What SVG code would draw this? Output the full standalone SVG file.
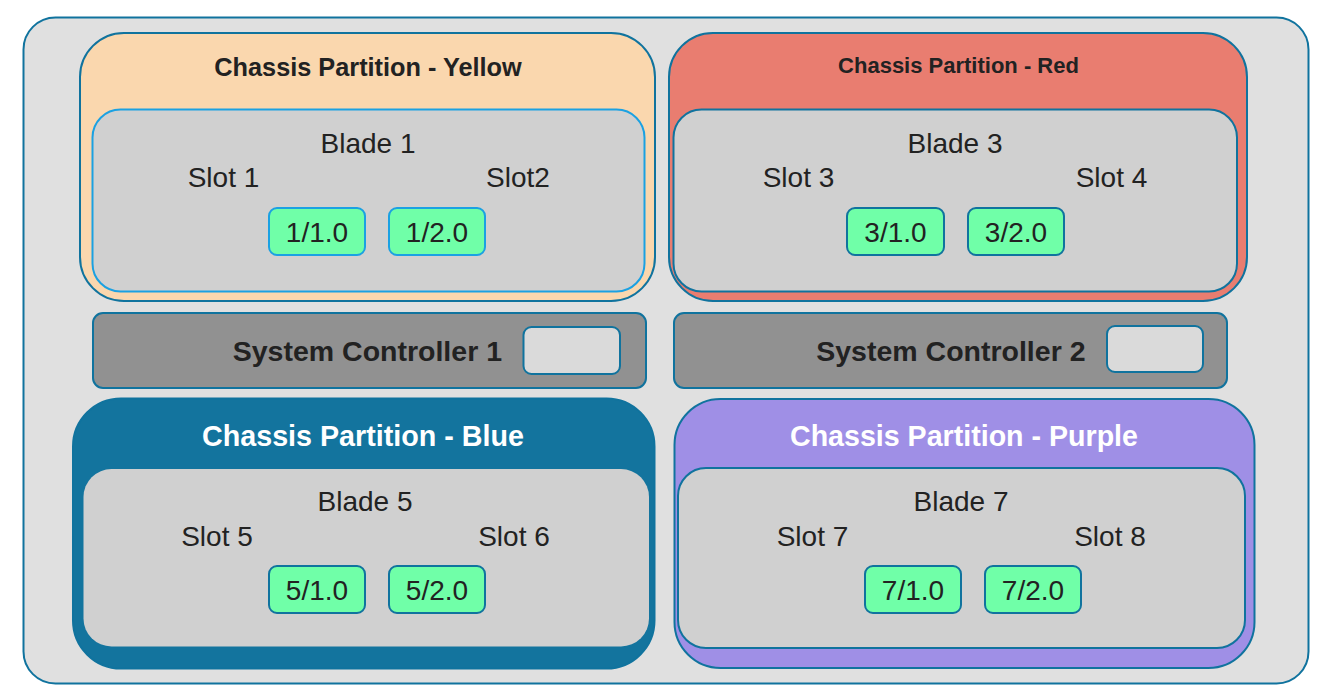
<svg xmlns="http://www.w3.org/2000/svg" width="1322" height="690" viewBox="0 0 1322 690">
  <style>
    .outline { stroke: #10739e; stroke-width: 2; }
    .blade { fill: #d0d0d0; }
    .port { fill: #70ffa8; stroke-width: 2; }
    .t { font-family: "Liberation Sans", Arial, Helvetica, sans-serif; fill: #222222; text-anchor: middle; }
    .title { font-weight: bold; }
    .white { fill: #ffffff; }
    .lbl { font-size: 28px; }
    .sc { font-size: 28.5px; font-weight: bold; text-anchor: end; }
  </style>
  <rect width="1322" height="690" fill="#ffffff"/>
  <g id="chassis">
    <rect x="23.5" y="17.5" width="1285" height="666" rx="32" ry="32" fill="#e0e0e0" class="outline"/>
  </g>

  <g id="partition-yellow">
    <rect x="80" y="33" width="575" height="268" rx="44" ry="44" fill="#fad7ae" class="outline"/>
    <text class="t title" x="368" y="76" font-size="25.3">Chassis Partition - Yellow</text>
    <g id="blade-1">
      <rect x="92.5" y="109.5" width="552" height="182" rx="28" ry="28" class="blade" stroke="#1ba1e2" stroke-width="2"/>
      <text class="t lbl" x="368" y="152.5">Blade 1</text>
      <text class="t lbl" x="223.5" y="187">Slot 1</text>
      <text class="t lbl" x="518" y="187">Slot2</text>
      <g id="port-1-1">
        <rect x="269" y="208" width="96" height="47" rx="8" ry="8" class="port" stroke="#1ba1e2"/>
        <text class="t lbl" x="317" y="241.5">1/1.0</text>
      </g>
      <g id="port-1-2">
        <rect x="389" y="208" width="96" height="47" rx="8" ry="8" class="port" stroke="#1ba1e2"/>
        <text class="t lbl" x="437" y="241.5">1/2.0</text>
      </g>
    </g>
  </g>

  <g id="partition-red">
    <rect x="669" y="33" width="578" height="268" rx="44" ry="44" fill="#e97d70" class="outline"/>
    <text class="t title" x="958.5" y="72.5" font-size="22">Chassis Partition - Red</text>
    <g id="blade-3">
      <rect x="673.5" y="109.5" width="563.5" height="182" rx="28" ry="28" class="blade outline"/>
      <text class="t lbl" x="955" y="152.5">Blade 3</text>
      <text class="t lbl" x="798.5" y="187">Slot 3</text>
      <text class="t lbl" x="1111.5" y="187">Slot 4</text>
      <g id="port-3-1">
        <rect x="847" y="208" width="97" height="47" rx="8" ry="8" class="port" stroke="#10739e"/>
        <text class="t lbl" x="895.5" y="241.5">3/1.0</text>
      </g>
      <g id="port-3-2">
        <rect x="968" y="208" width="96" height="47" rx="8" ry="8" class="port" stroke="#10739e"/>
        <text class="t lbl" x="1016" y="241.5">3/2.0</text>
      </g>
    </g>
  </g>

  <g id="system-controller-1">
    <rect x="93" y="313" width="553" height="75" rx="10" ry="10" fill="#919191" class="outline"/>
    <text class="t sc" x="502" y="361">System Controller 1</text>
    <rect x="523.5" y="327" width="96.5" height="47" rx="8" ry="8" fill="#dadada" class="outline"/>
  </g>

  <g id="system-controller-2">
    <rect x="674" y="313" width="553" height="75" rx="10" ry="10" fill="#919191" class="outline"/>
    <text class="t sc" x="1085.5" y="361">System Controller 2</text>
    <rect x="1107" y="326" width="96" height="46" rx="8" ry="8" fill="#dadada" class="outline"/>
  </g>

  <g id="partition-blue">
    <rect x="73" y="398.5" width="581.5" height="270" rx="48" ry="48" fill="#13749e" class="outline"/>
    <text class="t title white" x="363" y="445.5" font-size="28.7">Chassis Partition - Blue</text>
    <g id="blade-5">
      <rect x="83.5" y="469" width="565.5" height="177.5" rx="28" ry="28" class="blade"/>
      <text class="t lbl" x="365" y="510.5">Blade 5</text>
      <text class="t lbl" x="217" y="545.5">Slot 5</text>
      <text class="t lbl" x="514" y="545.5">Slot 6</text>
      <g id="port-5-1">
        <rect x="269" y="566" width="96" height="47" rx="8" ry="8" class="port" stroke="#10739e"/>
        <text class="t lbl" x="317" y="600">5/1.0</text>
      </g>
      <g id="port-5-2">
        <rect x="389" y="566" width="96" height="47" rx="8" ry="8" class="port" stroke="#10739e"/>
        <text class="t lbl" x="437" y="600">5/2.0</text>
      </g>
    </g>
  </g>

  <g id="partition-purple">
    <rect x="674.5" y="399" width="580" height="269" rx="46" ry="46" fill="#9f8fe6" class="outline"/>
    <text class="t title white" x="964" y="445.5" font-size="28.6">Chassis Partition - Purple</text>
    <g id="blade-7">
      <rect x="678" y="468" width="567" height="180" rx="28" ry="28" class="blade outline"/>
      <text class="t lbl" x="961" y="510.5">Blade 7</text>
      <text class="t lbl" x="812.5" y="545.5">Slot 7</text>
      <text class="t lbl" x="1110" y="545.5">Slot 8</text>
      <g id="port-7-1">
        <rect x="865" y="566" width="96" height="47" rx="8" ry="8" class="port" stroke="#10739e"/>
        <text class="t lbl" x="913" y="600">7/1.0</text>
      </g>
      <g id="port-7-2">
        <rect x="985" y="566" width="96" height="47" rx="8" ry="8" class="port" stroke="#10739e"/>
        <text class="t lbl" x="1033" y="600">7/2.0</text>
      </g>
    </g>
  </g>

  <g id="connectors"></g>
</svg>
